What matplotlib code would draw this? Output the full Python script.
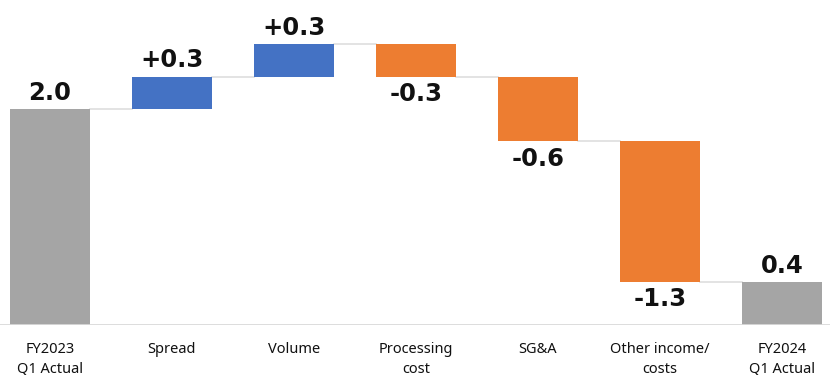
import matplotlib.pyplot as plt
import numpy as np

categories = ['FY2023\nQ1 Actual', 'Spread', 'Volume', 'Processing\ncost',
              'SG&A', 'Other income/\ncosts', 'FY2024\nQ1 Actual']
changes = [2.0, 0.3, 0.3, -0.3, -0.6, -1.3, 0.4]
labels = ['2.0', '+0.3', '+0.3', '-0.3', '-0.6', '-1.3', '0.4']

GRAY = '#A5A5A5'
BLUE = '#4472C4'
ORANGE = '#ED7D31'

plt.rcParams['font.family'] = ['Noto Sans', 'DejaVu Sans']

fig = plt.figure(figsize=(8.3, 3.75), dpi=100)
ax = fig.add_axes([0, 50 / 375, 1, 325 / 375])

x = np.arange(len(categories))
width = 0.656

# bottoms / heights for the waterfall
bottoms, heights, colors = [], [], []
level = 0.0
for i, v in enumerate(changes):
    if i == 0 or i == len(changes) - 1:
        bottoms.append(0)
        heights.append(v)
        colors.append(GRAY)
        level = v
    else:
        if v >= 0:
            bottoms.append(level)
            colors.append(BLUE)
        else:
            bottoms.append(level + v)
            colors.append(ORANGE)
        heights.append(abs(v))
        level += v

ax.bar(x, heights, bottom=bottoms, width=width, color=colors, zorder=3)

# connector lines between bars
level = 0.0
for i, v in enumerate(changes[:-1]):
    level = v if i == 0 else level + v
    ax.plot([x[i] + width / 2, x[i + 1] - width / 2], [level, level],
            color='#DEDEDE', lw=1.2, zorder=2)

# value labels
for i, (v, lab) in enumerate(zip(changes, labels)):
    top = bottoms[i] + heights[i]
    if v >= 0:
        ax.annotate(lab, (x[i], top), xytext=(0, 3), textcoords='offset points',
                    ha='center', va='bottom', fontsize=17.5, fontweight='bold',
                    family='DejaVu Sans', color='#111111')
    else:
        ax.annotate(lab, (x[i], bottoms[i]), xytext=(0, -4),
                    textcoords='offset points', ha='center', va='top',
                    fontsize=17.5, fontweight='bold', family='DejaVu Sans',
                    color='#111111')

ax.axhline(0, color='#D9D9D9', lw=2, zorder=4)

ax.set_xlim(-50 / 122, 6 + 48 / 122)
ax.set_ylim(0, 325 / 108)
ax.set_xticks(x)
ax.set_xticklabels(categories, fontsize=10.5, color='#111111', linespacing=1.45,
                   fontweight='semibold')
ax.tick_params(axis='x', length=0, pad=12)
ax.set_yticks([])
for s in ax.spines.values():
    s.set_visible(False)

fig.savefig('out.png', dpi=100)
